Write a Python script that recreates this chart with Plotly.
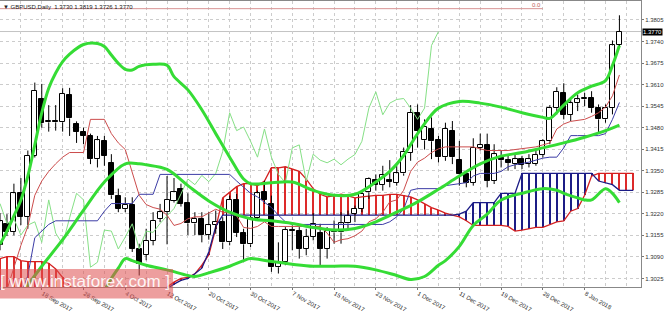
import plotly.graph_objects as go

# ---------------- data ----------------
tick_idx = [0, 6, 12, 18, 24, 30, 36, 42, 48, 54, 60, 66, 72, 78, 84]
tick_labels = ["8 Sep 2017", "18 Sep 2017", "26 Sep 2017", "4 Oct 2017", "12 Oct 2017",
               "20 Oct 2017", "30 Oct 2017", "7 Nov 2017", "15 Nov 2017", "23 Nov 2017",
               "1 Dec 2017", "11 Dec 2017", "19 Dec 2017", "28 Dec 2017", "8 Jan 2018"]
y_ticks = [1.3025, 1.3090, 1.3155, 1.3220, 1.3285, 1.3350, 1.3415, 1.3480,
           1.3545, 1.3610, 1.3675, 1.3740, 1.3805]

opens = [1.3127, 1.3190, 1.3165, 1.3282, 1.3211, 1.3396, 1.3565, 1.3496, 1.3500, 1.3496,
         1.3580, 1.3491, 1.3468, 1.3456, 1.3385, 1.3439, 1.3372, 1.3274, 1.3234, 1.3248,
         1.3114, 1.3096, 1.3139, 1.3205, 1.3225, 1.3259, 1.3296, 1.3254, 1.3191, 1.3205,
         1.3156, 1.3186, 1.3196, 1.3134, 1.3262, 1.3162, 1.3128, 1.3208, 1.3285, 1.3250,
         1.3059, 1.3074, 1.3171, 1.3168, 1.3114, 1.3150, 1.3162, 1.3114, 1.3168, 1.3164,
         1.3191, 1.3219, 1.3236, 1.3285, 1.3322, 1.3308, 1.3322, 1.3314, 1.3342, 1.3405,
         1.3525, 1.3442, 1.3476, 1.3442, 1.3391, 1.3471, 1.3382, 1.3339, 1.3314, 1.3419,
         1.3428, 1.3319, 1.3388, 1.3382, 1.3371, 1.3385, 1.3371, 1.3371, 1.3399, 1.3439,
         1.3539, 1.3585, 1.3519, 1.3554, 1.3565, 1.3568, 1.3539, 1.3505, 1.3539, 1.3730]
highs = [1.3222, 1.3219, 1.3311, 1.3328, 1.3411, 1.3616, 1.3612, 1.3548, 1.3548, 1.3599,
         1.3600, 1.3499, 1.3480, 1.3462, 1.3455, 1.3455, 1.3400, 1.3296, 1.3270, 1.3270,
         1.3130, 1.3175, 1.3225, 1.3250, 1.3334, 1.3328, 1.3311, 1.3282, 1.3225, 1.3225,
         1.3225, 1.3230, 1.3210, 1.3275, 1.3280, 1.3175, 1.3215, 1.3290, 1.3320, 1.3275,
         1.3134, 1.3180, 1.3185, 1.3180, 1.3175, 1.3222, 1.3190, 1.3180, 1.3200, 1.3225,
         1.3230, 1.3245, 1.3290, 1.3330, 1.3339, 1.3365, 1.3382, 1.3365, 1.3420, 1.3548,
         1.3550, 1.3505, 1.3511, 1.3455, 1.3495, 1.3500, 1.3440, 1.3345, 1.3448, 1.3462,
         1.3462, 1.3430, 1.3410, 1.3395, 1.3400, 1.3395, 1.3400, 1.3410, 1.3445, 1.3548,
         1.3602, 1.3614, 1.3565, 1.3580, 1.3585, 1.3590, 1.3550, 1.3550, 1.3743, 1.3819]
lows = [1.3110, 1.3153, 1.3155, 1.3186, 1.3175, 1.3390, 1.3480, 1.3468, 1.3471, 1.3468,
        1.3455, 1.3434, 1.3430, 1.3370, 1.3360, 1.3365, 1.3265, 1.3225, 1.3225, 1.3105,
        1.3034, 1.3080, 1.3125, 1.3195, 1.3128, 1.3254, 1.3242, 1.3156, 1.3156, 1.3134,
        1.3142, 1.3160, 1.3114, 1.3125, 1.3150, 1.3074, 1.3120, 1.3200, 1.3250, 1.3045,
        1.3040, 1.3065, 1.3110, 1.3085, 1.3095, 1.3140, 1.3062, 1.3085, 1.3130, 1.3130,
        1.3170, 1.3195, 1.3225, 1.3265, 1.3290, 1.3290, 1.3300, 1.3305, 1.3335, 1.3380,
        1.3420, 1.3414, 1.3385, 1.3375, 1.3380, 1.3370, 1.3305, 1.3300, 1.3305, 1.3411,
        1.3300, 1.3310, 1.3360, 1.3350, 1.3355, 1.3355, 1.3360, 1.3365, 1.3390, 1.3430,
        1.3520, 1.3505, 1.3500, 1.3530, 1.3545, 1.3525, 1.3462, 1.3495, 1.3520, 1.3726]
closes = [1.3197, 1.3165, 1.3282, 1.3211, 1.3396, 1.3591, 1.3493, 1.3500, 1.3496, 1.3582,
          1.3508, 1.3468, 1.3456, 1.3385, 1.3442, 1.3396, 1.3276, 1.3236, 1.3248, 1.3114,
          1.3068, 1.3139, 1.3199, 1.3225, 1.3262, 1.3285, 1.3251, 1.3191, 1.3205, 1.3156,
          1.3186, 1.3196, 1.3134, 1.3262, 1.3162, 1.3128, 1.3208, 1.3282, 1.3262, 1.3059,
          1.3074, 1.3171, 1.3168, 1.3114, 1.3150, 1.3190, 1.3114, 1.3168, 1.3164, 1.3191,
          1.3214, 1.3236, 1.3280, 1.3325, 1.3308, 1.3336, 1.3317, 1.3342, 1.3408, 1.3525,
          1.3471, 1.3482, 1.3439, 1.3391, 1.3476, 1.3391, 1.3339, 1.3314, 1.3419, 1.3428,
          1.3319, 1.3400, 1.3382, 1.3374, 1.3385, 1.3368, 1.3385, 1.3399, 1.3439, 1.3539,
          1.3588, 1.3519, 1.3554, 1.3565, 1.3568, 1.3539, 1.3505, 1.3539, 1.3728, 1.3770]

# Bollinger bands (sampled points)
bb_up_idx = [0, 1, 2, 3, 4, 5, 6, 7, 8, 9, 10, 12, 14, 15, 16, 17, 18, 19, 20, 22,
             24, 25, 27, 29, 31, 33, 35, 36, 39, 42, 45, 48, 51, 54, 56, 58, 60, 62, 63, 66,
             69, 72, 75, 78, 79, 81, 83, 85, 87, 88, 89]
bb_upper = [1.3128, 1.3168, 1.3214, 1.3262, 1.3334, 1.3428, 1.3525, 1.3599, 1.3645, 1.3679,
            1.3702, 1.3731, 1.3734, 1.3725, 1.3699, 1.3674, 1.3656, 1.3654, 1.3665, 1.3671,
            1.3668, 1.3634, 1.3594, 1.3534, 1.3462, 1.3391, 1.3325, 1.3311, 1.3314, 1.3316,
            1.3291, 1.3276, 1.3279, 1.3316, 1.3348, 1.3396, 1.3462, 1.3519, 1.3539, 1.3559,
            1.3554, 1.3542, 1.3525, 1.3511, 1.3508, 1.3548, 1.3585, 1.3605, 1.3622, 1.3668,
            1.3728]
bb_mid_idx = [3, 4, 6, 9, 12, 15, 18, 20, 21, 24, 27, 30, 33, 36, 39, 42, 45, 48, 51, 54,
              57, 60, 63, 66, 69, 72, 75, 78, 81, 84, 87, 89]
bb_middle = [1.2976, 1.3005, 1.3062, 1.3142, 1.3231, 1.3316, 1.3371, 1.3371, 1.3368, 1.3354,
             1.3305, 1.3259, 1.3225, 1.3205, 1.3199, 1.3191, 1.3179, 1.3171, 1.3176, 1.3196,
             1.3225, 1.3256, 1.3294, 1.3334, 1.3371, 1.3394, 1.3405, 1.3419, 1.3434, 1.3451,
             1.3471, 1.3488]
bb_low_idx = [15, 16, 17, 18, 19, 21, 24, 27, 28, 30, 33, 35, 36, 39, 42, 45, 48, 51, 54, 57,
              59, 61, 63, 64, 66, 68, 70, 72, 75, 78, 80, 81, 83, 84, 85, 87, 88, 89]
bb_lower = [1.2988, 1.3025, 1.3056, 1.3085, 1.3079, 1.3065, 1.3051, 1.3034, 1.3031, 1.3042,
            1.3062, 1.3079, 1.3085, 1.3076, 1.3068, 1.3062, 1.3062, 1.3062, 1.3051, 1.3034,
            1.3022, 1.3031, 1.3065, 1.3079, 1.3122, 1.3185, 1.3219, 1.3262, 1.3282, 1.3296,
            1.3291, 1.3282, 1.3268, 1.3262, 1.3262, 1.3296, 1.3282, 1.3254]

# Ichimoku
tenkan = [None, 1.2991, 1.3056, 1.3125, 1.3182, 1.3276, 1.3319, 1.3348, 1.3371, 1.3391,
          1.3405, 1.3405, 1.3405, 1.3505, 1.3505, 1.3505, 1.3462, 1.3434, 1.3414, 1.3348,
          1.3276, 1.3248, 1.3239, 1.3234, 1.3216, 1.3185, 1.3191, 1.3205, 1.3211, 1.3211,
          1.3222, 1.3234, 1.3225, 1.3222, 1.3214, 1.3179, 1.3176, 1.3182, 1.3196, 1.3182,
          1.3182, 1.3182, 1.3182, 1.3182, 1.3182, 1.3182, 1.3182, 1.3162, 1.3134, 1.3142,
          1.3145, 1.3154, 1.3168, 1.3196, 1.3205, 1.3225, 1.3256, 1.3262, 1.3291, 1.3348,
          1.3376, 1.3388, 1.3405, 1.3416, 1.3422, 1.3422, 1.3422, 1.3422, 1.3422, 1.3416,
          1.3411, 1.3411, 1.3411, 1.3411, 1.3414, 1.3416, 1.3419, 1.3422, 1.3428, 1.3434,
          1.3476, 1.3491, 1.3499, 1.3502, 1.3505, 1.3514, 1.3525, 1.3542, 1.3576, 1.3639]
kijun = [None, None, None, 1.2976, 1.3034, 1.3148, 1.3168, 1.3188, 1.3199, 1.3199,
         1.3199, 1.3199, 1.3199, 1.3199, 1.3199, 1.3228, 1.3251, 1.3251, 1.3251, 1.3251,
         1.3279, 1.3279, 1.3279, 1.3339, 1.3339, 1.3339, 1.3339, 1.3339, 1.3339, 1.3339,
         1.3339, 1.3339, 1.3339, 1.3339, 1.3319, 1.3299, 1.3282, 1.3271, 1.3254, 1.3239,
         1.3216, 1.3196, 1.3188, 1.3188, 1.3188, 1.3188, 1.3188, 1.3188, 1.3188, 1.3188,
         1.3188, 1.3188, 1.3188, 1.3188, 1.3188, 1.3188, 1.3196, 1.3211, 1.3234, 1.3291,
         1.3296, 1.3296, 1.3296, 1.3296, 1.3305, 1.3308, 1.3311, 1.3314, 1.3334, 1.3342,
         1.3342, 1.3342, 1.3348, 1.3362, 1.3368, 1.3371, 1.3376, 1.3382, 1.3388, 1.3391,
         1.3391, 1.3419, 1.3456, 1.3456, 1.3456, 1.3456, 1.3456, 1.3462, 1.3505, 1.3556]
span_a = ([1.3085, 1.3091, 1.3091, 1.3079, 1.3076, 1.3076, 1.3076, 1.3071, 1.3054, 1.3028,
           1.3005, 1.2976] + [None] * 12 +
          [1.2999, 1.3014, 1.3025, 1.3028, 1.3039, 1.3065, 1.3096, 1.3176, 1.3268, 1.3285,
           1.3302, 1.3311, 1.3311, 1.3305, 1.3319, 1.3359, 1.3359, 1.3362, 1.3356, 1.3348,
           1.3325, 1.3296, 1.3279, 1.3271, 1.3274, 1.3279, 1.3274, 1.3268, 1.3271, 1.3274,
           1.3276, 1.3276, 1.3279, 1.3279, 1.3276, 1.3271, 1.3262, 1.3251, 1.3239, 1.3231,
           1.3222, 1.3216, 1.3211, 1.3199, 1.3185, 1.3185, 1.3185, 1.3185, 1.3185, 1.3182,
           1.3168, 1.3171, 1.3174, 1.3179, 1.3179, 1.3188, 1.3196, 1.3199, 1.3228, 1.3236,
           1.3276, 1.3334, 1.3342, 1.3342, 1.3342, 1.3342, 1.3342, 1.3342])
span_b = ([1.2950] * 12 + [None] * 12 +
          [1.2994, 1.3008, 1.3019, 1.3025, 1.3039, 1.3056, 1.3105, 1.3182] +
          [1.3216] * 34 + [1.3219, 1.3228] + [1.3254] * 4 + [1.3282] * 3 +
          [1.3342] * 11 + [1.3319, 1.3314, 1.3308, 1.3291, 1.3291, 1.3291])

fib_level = 1.3839
fib_end_idx = 78
symbol_title = "GBPUSD,Daily"

# ---------------- figure ----------------
fig = go.Figure()
bar_idx = list(range(len(closes)))
cloud_idx = list(range(len(span_a)))

# cloud hatching (one thin vertical per bar)
for want_red, col in ((True, "#dd2a2a"), (False, "#1c1c86")):
    hx, hb, hh = [], [], []
    for i in cloud_idx:
        a, b = span_a[i], span_b[i]
        if a is None or b is None:
            continue
        if (a >= b) == want_red:
            hx.append(i)
            hb.append(min(a, b))
            hh.append(abs(a - b))
    fig.add_trace(go.Bar(x=hx, base=hb, y=hh, width=0.15,
                         marker=dict(color=col, line=dict(width=0)), hoverinfo="skip"))

# candle bodies
body_base = [min(o, c) for o, c in zip(opens, closes)]
body_h = [max(abs(c - o), 0.00004) for o, c in zip(opens, closes)]
body_col = ["#ffffff" if c >= o else "#000000" for o, c in zip(opens, closes)]
fig.add_trace(go.Bar(x=bar_idx, base=body_base, y=body_h, width=0.72,
                     marker=dict(color=body_col, line=dict(color="#000000", width=1)),
                     hoverinfo="skip"))

# senkou spans
fig.add_trace(go.Scatter(x=cloud_idx, y=span_a, mode="lines",
                         line=dict(color="#d42020", width=1.3), connectgaps=False))
fig.add_trace(go.Scatter(x=cloud_idx, y=span_b, mode="lines",
                         line=dict(color="#1c1c86", width=1.3), connectgaps=False))

# wicks
wx, wy = [], []
for i, o, h, l, c in zip(bar_idx, opens, highs, lows, closes):
    wx += [i, i, None, i, i, None]
    wy += [h, max(o, c), None, min(o, c), l, None]
fig.add_trace(go.Scatter(x=wx, y=wy, mode="lines", line=dict(color="#000000", width=1)))

# chikou span: closes shifted back 26 bars
fig.add_trace(go.Scatter(x=bar_idx[:-26], y=closes[26:], mode="lines",
                         line=dict(color="#86e086", width=1)))
fig.add_trace(go.Scatter(x=bar_idx, y=kijun, mode="lines",
                         line=dict(color="#3c3ca6", width=1)))
fig.add_trace(go.Scatter(x=bar_idx, y=tenkan, mode="lines",
                         line=dict(color="#cc4c4c", width=1)))

# Bollinger bands
for xi, yv in ((bb_up_idx, bb_upper), (bb_mid_idx, bb_middle), (bb_low_idx, bb_lower)):
    fig.add_trace(go.Scatter(x=xi, y=yv, mode="lines", line_shape="spline",
                             line=dict(color="#35dc35", width=3)))

# fibo 0.0 level
fig.add_trace(go.Scatter(x=[bar_idx[0], fib_end_idx], y=[fib_level, fib_level], mode="lines",
                         line=dict(color="#d89494", width=1)))

last_c = closes[-1]
fig.add_shape(type="line", xref="paper", x0=0, x1=1, yref="y", y0=last_c, y1=last_c,
              line=dict(color="#c4c4c4", width=1), layer="below")

# watermark box
fig.add_shape(type="rect", xref="paper", yref="paper", x0=0, x1=0.27,
              y0=-0.04, y1=0.063, fillcolor="rgba(222,78,78,0.55)",
              line=dict(width=0), layer="above")

fig.add_annotation(text="[ www.instaforex.com ]", xref="paper", yref="paper",
                   x=0.133, y=0.018, xanchor="center", yanchor="middle", showarrow=False,
                   font=dict(family="Liberation Sans, Arial", size=17,
                             color="rgba(255,255,255,0.92)"))

title_text = "\u25bc " + symbol_title + "  %.4f %.4f %.4f %.4f" % (opens[-1], highs[-1], lows[-1], closes[-1])
fig.add_annotation(text=title_text, xref="paper", yref="paper", x=0, y=1,
                   xanchor="left", yanchor="top", xshift=1, yshift=-1, showarrow=False,
                   font=dict(family="Liberation Sans, Arial", size=6, color="#222222"))
fig.add_annotation(text="0.0", x=fib_end_idx, y=fib_level, xanchor="right", yanchor="bottom",
                   showarrow=False, yshift=-1,
                   font=dict(family="Liberation Sans, Arial", size=6, color="#c06060"))
fig.add_annotation(text="%.4f" % last_c, xref="paper", x=1, y=last_c, xanchor="left",
                   yanchor="middle", xshift=1, showarrow=False, bgcolor="#000000",
                   borderpad=0,
                   font=dict(family="Liberation Sans, Arial", size=6, color="#ffffff"))

fig.update_layout(
    width=665, height=313, margin=dict(l=0, r=24, t=0, b=11),
    paper_bgcolor="white", plot_bgcolor="white", showlegend=False,
    barmode="overlay", bargap=0,
    xaxis=dict(range=[0, 92.1], tickmode="array", tickvals=tick_idx, ticktext=tick_labels,
               ticklabelposition="outside right", ticks="outside", ticklen=2,
               tickcolor="#777777", tickfont=dict(family="Liberation Sans, Arial", size=6,
                                                  color="#333333"),
               showgrid=True, gridcolor="#cccccc", griddash="dot", gridwidth=1,
               minor=dict(tick0=0, dtick=3, showgrid=True, gridcolor="#cccccc",
                          griddash="dot"),
               showline=True, mirror=True, linecolor="#888888", zeroline=False),
    yaxis=dict(side="right", range=[1.29993, 1.38621], tickmode="array", tickvals=y_ticks,
               tickformat=".4f", ticks="outside", ticklen=2, tickcolor="#777777",
               tickfont=dict(family="Liberation Sans, Arial", size=6, color="#333333"),
               showgrid=True, gridcolor="#cccccc", griddash="dot", gridwidth=1,
               showline=True, linecolor="#888888", zeroline=False),
)

fig.write_html("out.html")
